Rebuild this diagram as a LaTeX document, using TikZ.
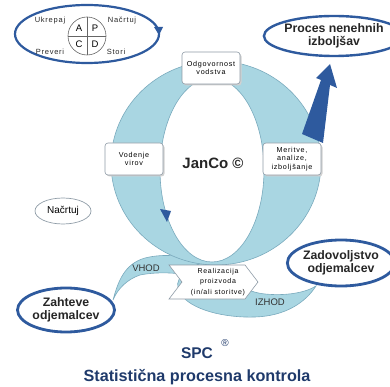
\documentclass[tikz,border=0pt]{standalone}
\usepackage{fontspec}
\setmainfont{Liberation Sans}
\newfontfamily\boxfont{Liberation Sans}[LetterSpace=10]
\usetikzlibrary{shapes.geometric}
\definecolor{ringfill}{HTML}{A9D6E2}
\definecolor{ringline}{HTML}{7AAABD}
\definecolor{darkblue}{HTML}{2E5A9E}
\definecolor{navy}{HTML}{1F3A6B}
\definecolor{boxline}{HTML}{8E9BA6}
\begin{document}
\begin{tikzpicture}[x=1pt,y=-1pt,
  stagebox/.style={draw=boxline, fill=white, rounded corners=3pt, line width=0.6pt,
    minimum width=58pt, minimum height=32pt, inner sep=1pt, align=center,
    font=\boxfont\fontsize{7.2}{8.6}\selectfont},
  shadowbox/.style={fill=black!18, rounded corners=3pt, minimum width=58pt, minimum height=32pt, inner sep=0pt},
  bigell/.style={ellipse, draw=darkblue, line width=2.4pt, fill=white, align=center,
    font=\bfseries\fontsize{12.3}{13.5}\selectfont, text=black!85},
  flowlbl/.style={font=\fontsize{9.5}{11}\selectfont, text=black!80},
  pdcalbl/.style={font=\boxfont\fontsize{7.5}{9}\selectfont, text=black!85},
  quad/.style={font=\fontsize{9.5}{11}\selectfont}]
\useasboundingbox (0,0) rectangle (390,387);
% tails of the Q
\filldraw[fill=ringfill, draw=ringline, line width=0.6pt]
  (113,300) .. controls (118,282) and (124,264) .. (145,258)
  .. controls (165,253) and (185,256) .. (205,262) -- (200,278)
  .. controls (185,273) and (160,271) .. (140,275)
  .. controls (128,279) and (118,288) .. (113,300) -- cycle;
\filldraw[fill=ringfill, draw=ringline, line width=0.6pt]
  (205,262) .. controls (185,268) and (172,280) .. (180,293)
  .. controls (190,310) and (225,318) .. (255,317)
  .. controls (285,316) and (305,303) .. (316,286)
  .. controls (305,293) and (285,296) .. (265,294)
  .. controls (245,292) and (232,282) .. (228,266) -- cycle;
% ring
\filldraw[fill=ringfill, draw=ringline, line width=0.6pt, even odd rule]
  (216,163) ellipse [x radius=105, y radius=102]
  (212,170) ellipse [x radius=52, y radius=92];
% small arrowhead on the inner edge
\fill[darkblue] (160,209) -- (171,211) -- (167,222) -- cycle;
% big arrow to improvement
\fill[darkblue] (302,134) -- (321,80) -- (316,78) -- (330,64) -- (337,88) -- (330,85) -- (323,143) -- cycle;
% stage boxes
\node[shadowbox] (odgs) at (212.5,69.5) {};
\node[shadowbox] (vods) at (135.5,160.5) {};
\node[shadowbox] (mers) at (293.5,160.5) {};
\node[stagebox] (odg) at (211,68) {Odgovornost\\vodstva};
\node[stagebox] (vod) at (134,159) {Vodenje\\virov};
\node[stagebox] (mer) at (292,159) {Meritve,\\analize,\\izboljšanje};
\node[font=\bfseries\fontsize{15}{18}\selectfont, text=black!85] (janco) at (213,163) {JanCo ©};
% realisation arrow box
\filldraw[fill=white, draw=boxline, line width=0.6pt]
  (169,265) -- (245,265) -- (258,282) -- (245,299) -- (169,299) -- (182,282) -- cycle;
\node[align=center, font=\boxfont\fontsize{7}{10.3}\selectfont] (real) at (218,282)
  {Realizacija\\proizvoda\\(in/ali storitve)};
\node[flowlbl] (vhod) at (146,268) {VHOD};
\node[flowlbl] (izhod) at (270,302) {IZHOD};
% customer ellipses
\node[bigell, line width=2.8pt, minimum width=97pt, minimum height=44pt, inner sep=0pt] (zah) at (66,310) {Zahteve\\odjemalcev};
\node[bigell, line width=2.8pt, minimum width=97pt, minimum height=46pt, inner sep=0pt] (zad) at (341,263) {Zadovoljstvo\\odjemalcev};
\node[bigell, minimum width=112pt, minimum height=40pt, inner sep=0pt] (proc) at (334,36) {Proces nenehnih\\izboljšav};
\node[ellipse, draw=boxline, line width=0.7pt, minimum width=56pt, minimum height=26pt, inner sep=0pt,
  font=\fontsize{10}{12}\selectfont] (nac) at (63,211) {Načrtuj};
% PDCA cycle
\node[ellipse, draw=darkblue, line width=2.2pt, minimum width=144pt, minimum height=58pt] (pdca) at (87,34) {};
\fill[darkblue] (154,27) -- (163,27) -- (159,35) -- cycle;
\node[circle, draw=black!60, line width=0.6pt, minimum size=38pt, inner sep=0pt] (cyc) at (87,36) {};
\draw[black!60, line width=0.6pt] (cyc.north) -- (cyc.south) (cyc.west) -- (cyc.east);
\node[quad] (qa) at (79,28) {A};
\node[quad] (qp) at (95,28) {P};
\node[quad] (qc) at (79,44) {C};
\node[quad] (qd) at (95,44) {D};
\node[pdcalbl] (ukr) at (50,21) {Ukrepaj};
\node[pdcalbl] (nrt) at (122,21) {Načrtuj};
\node[pdcalbl] (prv) at (50,52) {Preveri};
\node[pdcalbl] (sto) at (116,52) {Stori};
% title
\node[text=navy, font=\bfseries\fontsize{15.5}{18}\selectfont] (spc) at (197,353) {SPC};
\node[text=navy, font=\fontsize{10}{12}\selectfont] (reg) at (225,343) {®};
\node[text=navy, font=\bfseries\fontsize{16.2}{19}\selectfont] (title) at (197,377) {Statistična procesna kontrola};
\end{tikzpicture}
\end{document}
